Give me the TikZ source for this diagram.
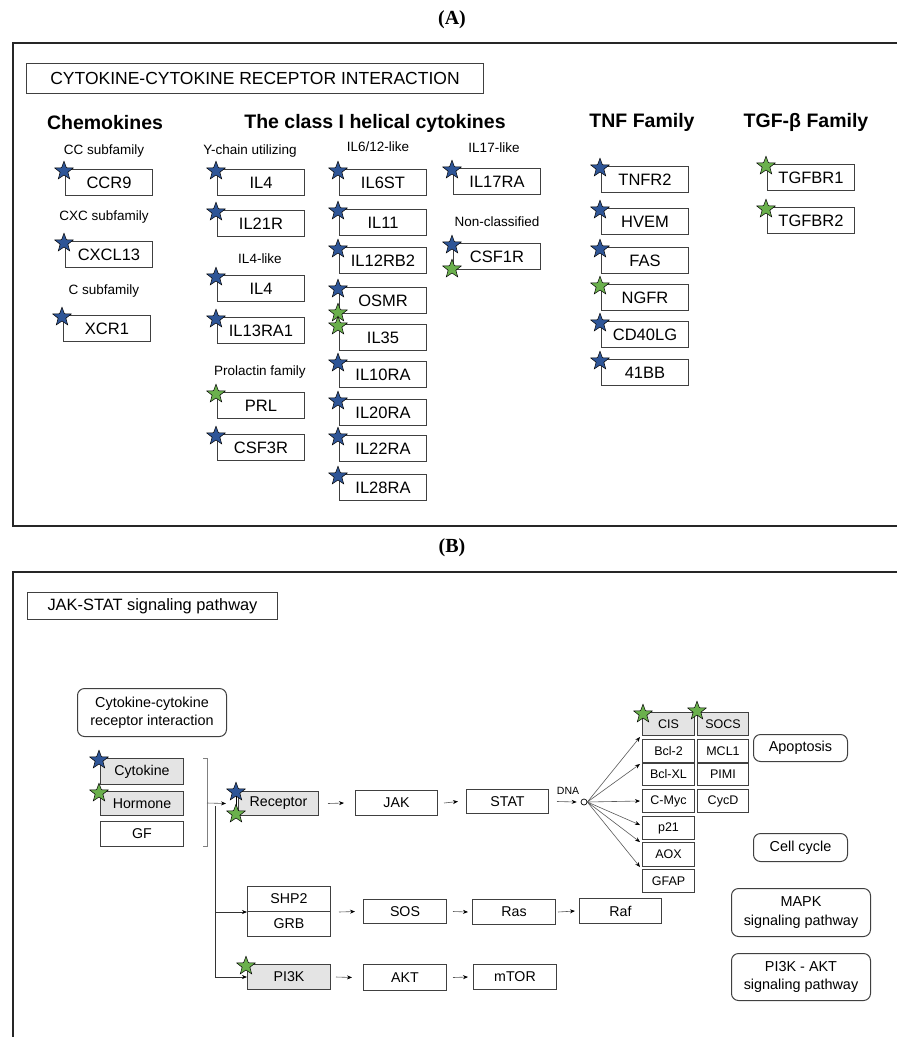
\documentclass[tikz,border=0pt]{standalone}
\usepackage{fontspec}
\setmainfont{Liberation Sans}
\newfontfamily\serifbf{Liberation Serif}
\usetikzlibrary{shapes.geometric,arrows.meta}
\definecolor{starblue}{HTML}{2E5597}
\definecolor{stargreen}{HTML}{6AB04C}
\definecolor{boxline}{HTML}{404040}
\definecolor{fillgray}{HTML}{E4E4E4}
\newcommand{\myfs}[1]{\fontsize{#1pt}{#1pt}\selectfont}
\newcommand{\Bstar}[1]{\node[bstar] (#1bs) at ([xshift=-1pt,yshift=-2pt]#1.north west) {};}
\newcommand{\Gstar}[1]{\node[gstar] (#1gs) at ([xshift=-1pt,yshift=-2pt]#1.north west) {};}
\newcommand{\Gstarlow}[1]{\node[gstar] (#1gl) at ([xshift=-1pt,yshift=1pt]#1.south west) {};}
\begin{document}
\begin{tikzpicture}[x=1pt,y=-1pt,
 gene/.style={draw=boxline, line width=1pt, minimum width=87pt, minimum height=26pt, inner sep=0pt, anchor=north west, font=\myfs{16.5}},
 bstar/.style={star, star points=5, star point ratio=2.4, minimum size=19.5pt, inner sep=0pt, draw=black, line width=0.5pt, fill=starblue},
 gstar/.style={bstar, fill=stargreen},
 sub/.style={font=\myfs{13.5}},
 head/.style={font=\bfseries\myfs{19.5}},
 pbox/.style={draw=boxline, line width=1pt, inner sep=0pt, anchor=north west, minimum width=83pt, minimum height=25pt, font=\myfs{14.2}},
 gbox/.style={draw=boxline, line width=1pt, minimum width=52pt, minimum height=23pt, inner sep=0pt, anchor=north west, font=\myfs{12.5}},
 arr/.style={draw=gray!70!black, line width=0.6pt, -{Stealth[length=5pt,width=4pt,color=black]}},
 rbox/.style={draw=boxline, line width=1pt, rounded corners=7pt, align=center, anchor=north west, inner sep=0pt, font=\myfs{14.4}},
 frame/.style={draw=black!85, line width=1.3pt}
]
\useasboundingbox (0,0) rectangle (897,1037);
% ================= Panel A =================
\node[font=\serifbf\bfseries\myfs{20}] (labA) at (452,20) {(A)};
\draw[frame] (897,43) -- (13,43) -- (13,526) -- (897,526);
\node[draw=boxline, line width=1pt, anchor=north west, minimum width=457pt, minimum height=30pt, inner sep=0pt, font=\myfs{17.5}] (titleA) at (26,63) {CYTOKINE-CYTOKINE RECEPTOR INTERACTION};
\node[head] (hchem) at (105,123) {Chemokines};
\node[head] (hclass) at (375,123) {The class I helical cytokines};
\node[head] (htnf) at (642,122) {TNF Family};
\node[head] (htgf) at (806,122) {TGF-β Family};
\node[sub] (scc) at (104,151) {CC subfamily};
\node[sub] (scxc) at (104,217) {CXC subfamily};
\node[sub] (sc) at (104,291) {C subfamily};
\node[sub] (sy) at (250,151) {Y-chain utilizing};
\node[sub] (sil6) at (378,147) {IL6/12-like};
\node[sub] (sil17) at (494,148) {IL17-like};
\node[sub] (snon) at (497,222) {Non-classified};
\node[sub] (sil4) at (260,259) {IL4-like};
\node[sub] (sprl) at (260,372) {Prolactin family};
% column 1
\node[gene] (ccr9) at (65,169) {CCR9};
\node[gene] (cxcl13) at (65,241) {CXCL13};
\node[gene] (xcr1) at (63,315) {XCR1};
% column 2
\node[gene] (il4a) at (217,169) {IL4};
\node[gene] (il21r) at (217,210) {IL21R};
\node[gene] (il4b) at (217,275) {IL4};
\node[gene] (il13ra1) at (217,317) {IL13RA1};
\node[gene] (prl) at (217,392) {PRL};
\node[gene] (csf3r) at (217,434) {CSF3R};
% column 3
\node[gene] (il6st) at (339,169) {IL6ST};
\node[gene] (il11) at (339,209) {IL11};
\node[gene] (il12rb2) at (339,247) {IL12RB2};
\node[gene] (osmr) at (339,287) {OSMR};
\node[gene] (il35) at (339,324) {IL35};
\node[gene] (il10ra) at (339,361) {IL10RA};
\node[gene] (il20ra) at (339,399) {IL20RA};
\node[gene] (il22ra) at (339,435) {IL22RA};
\node[gene] (il28ra) at (339,474) {IL28RA};
% column 4
\node[gene] (il17ra) at (453,168) {IL17RA};
\node[gene] (csf1r) at (453,243) {CSF1R};
% TNF
\node[gene] (tnfr2) at (601,166) {TNFR2};
\node[gene] (hvem) at (601,208) {HVEM};
\node[gene] (fas) at (601,247) {FAS};
\node[gene] (ngfr) at (601,284) {NGFR};
\node[gene] (cd40lg) at (601,321) {CD40LG};
\node[gene] (bb41) at (601,359) {41BB};
% TGF
\node[gene] (tgfbr1) at (767,164) {TGFBR1};
\node[gene] (tgfbr2) at (767,207) {TGFBR2};
% stars
\Bstar{ccr9}\Bstar{cxcl13}\Bstar{xcr1}
\Bstar{il4a}\Bstar{il21r}\Bstar{il4b}\Bstar{il13ra1}\Gstar{prl}\Bstar{csf3r}
\Bstar{il6st}\Bstar{il11}\Bstar{il12rb2}\Bstar{osmr}\Gstarlow{osmr}\Gstar{il35}
\Bstar{il10ra}\Bstar{il20ra}\Bstar{il22ra}\Bstar{il28ra}
\Bstar{il17ra}\Bstar{csf1r}\Gstarlow{csf1r}
\Bstar{tnfr2}\Bstar{hvem}\Bstar{fas}\Gstar{ngfr}\Bstar{cd40lg}\Bstar{bb41}
\Gstar{tgfbr1}\Gstar{tgfbr2}
% ================= Panel B =================
\node[font=\serifbf\bfseries\myfs{20}] (labB) at (452,548) {(B)};
\draw[frame] (897,572) -- (13,572) -- (13,1037);
\node[draw=boxline, line width=1pt, anchor=north west, minimum width=250pt, minimum height=27pt, inner sep=0pt, font=\myfs{16.4}] (titleB) at (27,592) {JAK-STAT signaling pathway};
\node[rbox, minimum width=149pt, minimum height=48pt] (ccri) at (77,688) {Cytokine-cytokine\\[4pt]receptor  interaction};
\node[pbox, fill=fillgray, minimum height=26pt] (cyto) at (100,758) {Cytokine};
\node[pbox, fill=fillgray, minimum height=24pt] (horm) at (100,791) {Hormone};
\node[pbox] (gf) at (100,821) {GF};
\Bstar{cyto}\Gstar{horm}
\draw[gray, line width=0.8pt] (203,758) -- (207,758) -- (207,846) -- (203,846);
\coordinate (bm) at (207,803);
\node[pbox, fill=fillgray, minimum width=80pt, minimum height=24pt] (rec) at (238,791) {Receptor};
\node[pbox, minimum width=82pt] (jak) at (355,790) {JAK};
\node[pbox, minimum width=82pt, minimum height=24pt] (stat) at (466,789) {STAT};
\node[pbox] (shp2) at (247,886) {SHP2};
\node[pbox] (grb) at (247,911) {GRB};
\node[pbox, fill=fillgray] (pi3k) at (247,964) {PI3K};
\node[pbox, minimum height=24pt] (sos) at (363,899) {SOS};
\node[pbox, minimum height=26pt] (akt) at (363,964) {AKT};
\node[pbox] (ras) at (472,899) {Ras};
\node[pbox, minimum width=82pt] (raf) at (579,898) {Raf};
\node[pbox] (mtor) at (473,964) {mTOR};
\Gstar{pi3k}
% receptor stars
\draw[black, line width=0.8pt] (236,792) -- (236,813);
\node[bstar] (recb) at (236,792) {};
\node[gstar] (recg) at (236,814) {};
% connectors
\draw[arr] (bm) -- ([xshift=-12pt]rec.west);
\coordinate (vt) at (215,806);
\draw[arr, draw=black!80] (vt) |- (pi3k.west);
\draw[arr, draw=black!80] (vt |- shp2.south west) -- (shp2.south west);
\draw[arr] ([xshift=9pt]rec.east) -- ([xshift=-11pt]jak.west);
\draw[arr] ([xshift=6pt]jak.east) -- ([xshift=-8pt]stat.west);
\node[draw=black, circle, line width=0.7pt, minimum size=6pt, inner sep=0pt] (dna) at (584,802) {};
\node[font=\myfs{10.5}] (dnalab) at (568,791) {DNA};
\draw[arr] ([xshift=8pt]stat.east) -- ([xshift=-4pt]dna.west);
\draw[arr] ([xshift=8pt]shp2.south east) -- ([xshift=-8pt]sos.west);
\draw[arr] ([xshift=6pt]sos.east) -- ([xshift=-4pt]ras.west);
\draw[arr] ([xshift=2pt]ras.east) -- ([xshift=-4pt]raf.west);
\draw[arr] ([xshift=5pt]pi3k.east) -- ([xshift=-11pt]akt.west);
\draw[arr] ([xshift=6pt]akt.east) -- ([xshift=-5pt]mtor.west);
% gene grid
\node[gbox, fill=fillgray] (cis) at (642,712) {CIS};
\node[gbox, fill=fillgray, minimum width=51pt] (socs) at (697,712) {SOCS};
\node[gbox] (bcl2) at (642,739) {Bcl-2};
\node[gbox, minimum width=51pt] (mcl1) at (697,739) {MCL1};
\node[gbox, minimum height=22pt] (bclxl) at (642,763) {Bcl-XL};
\node[gbox, minimum width=51pt, minimum height=22pt] (pimi) at (697,763) {PIMI};
\node[gbox] (cmyc) at (642,789) {C-Myc};
\node[gbox, minimum width=51pt] (cycd) at (697,789) {CycD};
\node[gbox] (p21) at (642,816) {p21};
\node[gbox, minimum height=24pt] (aox) at (642,842) {AOX};
\node[gbox] (gfap) at (642,869) {GFAP};
\node[gstar] (cisgs) at (643,714) {};
\node[gstar] (socsgs) at (697,711) {};
\coordinate (f1) at (640,737);
\coordinate (f2) at (640,764);
\coordinate (f3) at (640,801);
\coordinate (f4) at (640,825);
\coordinate (f5) at (640,842);
\coordinate (f6) at (640,867);
\foreach \f in {f1,f2,f3,f4,f5,f6} \draw[arr] (dna.east) -- (\f);
% pathway boxes
\node[rbox, minimum width=94pt, minimum height=27pt] (apop) at (753,734) {Apoptosis};
\node[rbox, minimum width=94pt, minimum height=28pt] (cellc) at (753,833) {Cell cycle};
\node[rbox, minimum width=139pt, minimum height=48pt] (mapk) at (731,888) {MAPK\\[4pt]signaling pathway};
\node[rbox, minimum width=139pt, minimum height=47pt] (pakt) at (731,953) {PI3K - AKT\\[4pt]signaling pathway};
\end{tikzpicture}
\end{document}
